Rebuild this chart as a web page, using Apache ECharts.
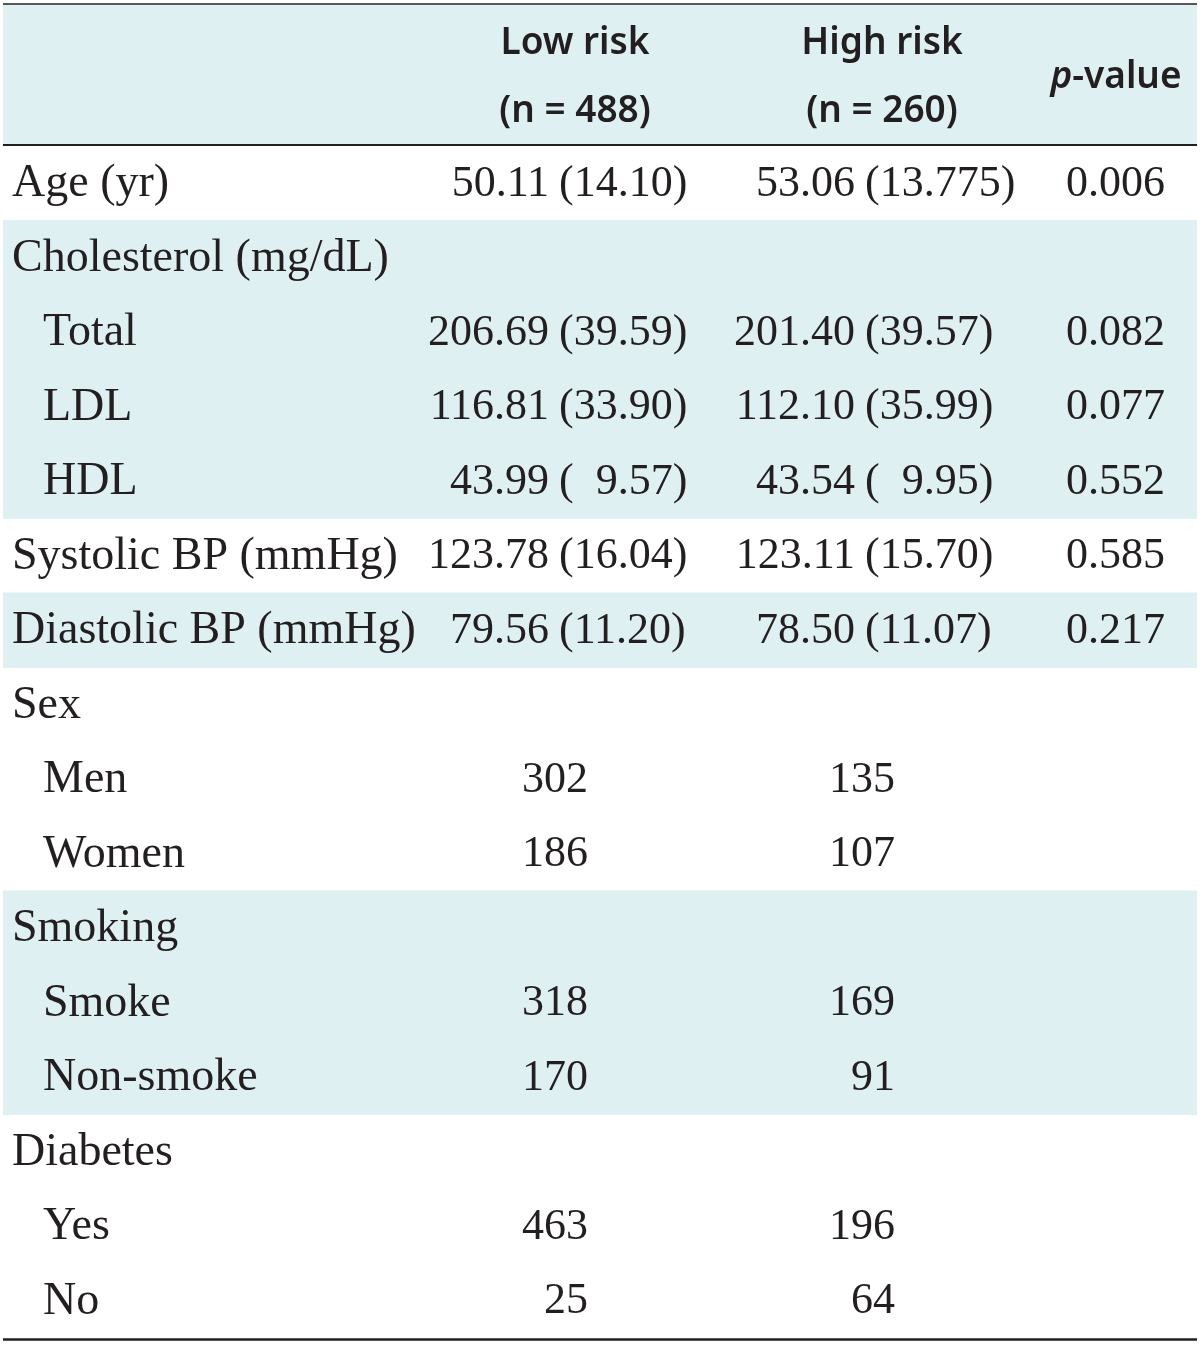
<!DOCTYPE html>
<html>
<head>
<meta charset="utf-8">
<script src="https://cdn.jsdelivr.net/npm/echarts@6/dist/echarts.min.js"></script>
<style>
  html, body { margin: 0; padding: 0; background: #fff; }
  #main { width: 1200px; height: 1346px; }
</style>
</head>
<body>
<div id="main"></div>
<script>
// table content
const headLow = ['Low risk', '(n = 488)'];
const headHigh = ['High risk', '(n = 260)'];
const rowLabels = ['Age (yr)', 'Cholesterol (mg/dL)', 'Total', 'LDL', 'HDL', 'Systolic BP (mmHg)',
  'Diastolic BP (mmHg)', 'Sex', 'Men', 'Women', 'Smoking', 'Smoke', 'Non-smoke', 'Diabetes', 'Yes', 'No'];
const indented = [0, 0, 1, 1, 1, 0, 0, 0, 1, 1, 0, 1, 1, 0, 1, 1];
const shaded = [0, 1, 1, 1, 1, 0, 1, 0, 0, 0, 1, 1, 1, 0, 0, 0];
const lowMean = ['50.11', '', '206.69', '116.81', '43.99', '123.78', '79.56', '', '', '', '', '', '', '', '', ''];
const lowSd = ['14.10', '', '39.59', '33.90', '9.57', '16.04', '11.20', '', '', '', '', '', '', '', '', ''];
const highMean = ['53.06', '', '201.40', '112.10', '43.54', '123.11', '78.50', '', '', '', '', '', '', '', '', ''];
const highSd = ['13.775', '', '39.57', '35.99', '9.95', '15.70', '11.07', '', '', '', '', '', '', '', '', ''];
const lowCount = [null, null, null, null, null, null, null, null, 302, 186, null, 318, 170, null, 463, 25];
const highCount = [null, null, null, null, null, null, null, null, 135, 107, null, 169, 91, null, 196, 64];
const pValues = ['0.006', '', '0.082', '0.077', '0.552', '0.585', '0.217', '', '', '', '', '', '', '', '', ''];

const ink = '#231f20';
const band = '#dff0f3';
const labelFont = '46px "Liberation Serif", serif';
const numFont = '44px "Liberation Serif", serif';
const sans = '600 37px "Noto Sans", sans-serif';

// figure space keeps single-digit SDs lined up
function sdText(s) {
  return '(' + (s.split('.')[0].length < 2 ? '\u2007' : '') + s + ')';
}

function renderRow(params, api) {
  const i = params.dataIndex;
  const y = api.coord([0, i])[1];
  const h = api.size([0, 1])[1];
  const X = v => api.coord([v, i])[0];
  const ty = y + 1;
  const kids = [];
  if (shaded[i]) {
    kids.push({ type: 'rect', shape: { x: X(3), y: y - h / 2 - 0.5, width: X(1197) - X(3), height: h + 1 },
      style: { fill: band } });
  }
  const txt = (s, x, align, font) => kids.push({ type: 'text',
    style: { text: s, x: x, y: ty, align: align, verticalAlign: 'middle', font: font || numFont, fill: ink } });
  txt(rowLabels[i], X(indented[i] ? 43 : 12), 'left', labelFont);
  if (lowMean[i]) {
    txt(lowMean[i], X(549), 'right');
    txt(sdText(lowSd[i]), X(559), 'left');
  }
  if (highMean[i]) {
    txt(highMean[i], X(855), 'right');
    txt(sdText(highSd[i]), X(865), 'left');
  }
  if (lowCount[i] != null) txt(String(lowCount[i]), X(588), 'right');
  if (highCount[i] != null) txt(String(highCount[i]), X(895), 'right');
  if (pValues[i]) txt(pValues[i], X(1165), 'right');
  return { type: 'group', children: kids };
}

const chart = echarts.init(document.getElementById('main'), null, { renderer: 'canvas' });

const headText = (s, x, y) => ({ type: 'text', x: x, y: y,
  style: { text: s, align: 'center', verticalAlign: 'middle', font: sans, fill: ink } });

chart.setOption({
  animation: false,
  backgroundColor: '#fff',
  grid: { left: 0, right: 0, top: 146, bottom: 8 },
  xAxis: { type: 'value', min: 0, max: 1200, show: false },
  yAxis: { type: 'category', data: rowLabels, inverse: true, show: false },
  graphic: [
    { type: 'rect', shape: { x: 3, y: 5, width: 1194, height: 140 }, style: { fill: band } },
    { type: 'line', shape: { x1: 3, y1: 4, x2: 1197, y2: 4 }, style: { stroke: ink, lineWidth: 1.5 } },
    { type: 'line', shape: { x1: 3, y1: 145, x2: 1197, y2: 145 }, style: { stroke: ink, lineWidth: 2 } },
    { type: 'line', shape: { x1: 3, y1: 1339.5, x2: 1197, y2: 1339.5 }, style: { stroke: ink, lineWidth: 2.5 } },
    headText(headLow[0], 575, 43),
    headText(headLow[1], 575, 111),
    headText(headHigh[0], 882, 43),
    headText(headHigh[1], 882, 111),
    { type: 'text', x: 1116, y: 77,
      style: { text: '{i|p}-value', align: 'center', verticalAlign: 'middle', font: sans, fill: ink,
        rich: { i: { fontStyle: 'italic', fontWeight: 600, fontSize: 37, fontFamily: 'Noto Sans', fill: ink } } } }
  ],
  series: [{
    type: 'custom',
    renderItem: renderRow,
    data: rowLabels.map((_, i) => [0, i]),
    encode: { x: 0, y: 1 },
    silent: true
  }]
});
</script>
</body>
</html>
